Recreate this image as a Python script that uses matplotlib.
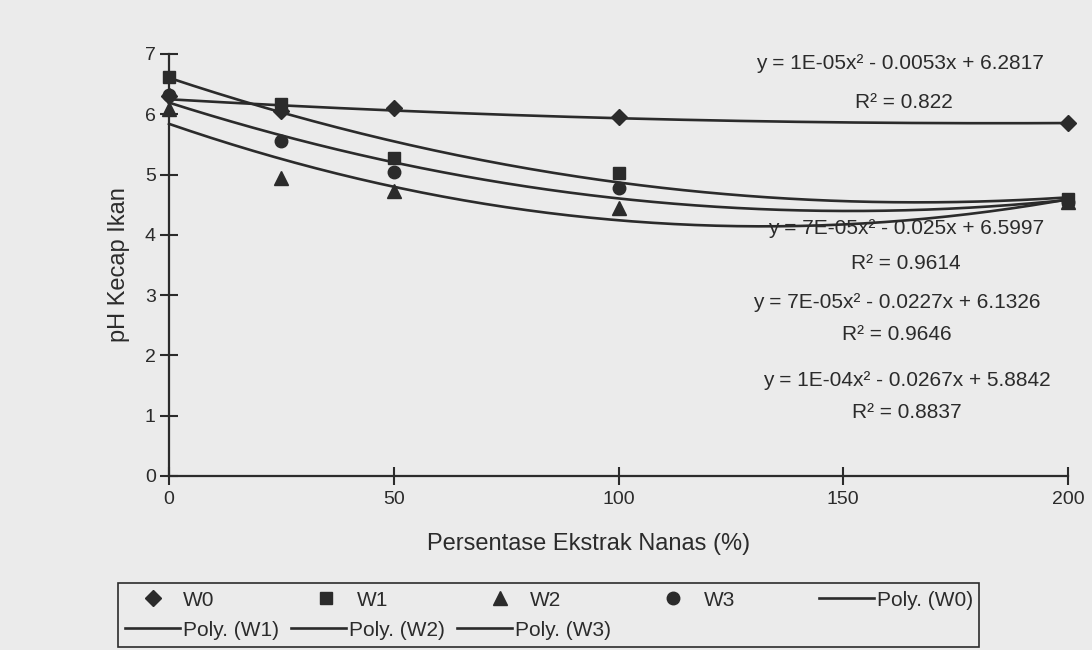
import numpy as np
import matplotlib
matplotlib.use("Agg")
import matplotlib.pyplot as plt
from matplotlib.lines import Line2D
from matplotlib.patches import Rectangle

# ---- data ----
ekstrak = [0, 25, 50, 100, 200]
W0 = [6.30, 6.05, 6.10, 5.95, 5.85]
W1 = [6.62, 6.17, 5.27, 5.02, 4.60]
W2 = [6.08, 4.94, 4.72, 4.44, 4.55]
W3 = [6.32, 5.55, 5.04, 4.77, 4.55]
series_names = ["W0", "W1", "W2", "W3"]
markers = ["D", "s", "^", "o"]
marker_sizes = [8, 9, 10, 9]
equations = [
    ("y = 1E-05x² - 0.0053x + 6.2817", "R² = 0.822"),
    ("y = 7E-05x² - 0.025x + 6.5997", "R² = 0.9614"),
    ("y = 7E-05x² - 0.0227x + 6.1326", "R² = 0.9646"),
    ("y = 1E-04x² - 0.0267x + 5.8842", "R² = 0.8837"),
]
x_ticks = [0, 50, 100, 150, 200]
y_ticks = [0, 1, 2, 3, 4, 5, 6, 7]

plt.rcParams['font.family'] = ['Liberation Sans', 'DejaVu Sans']
ink = '#2b2b2b'
bg = '#ebebeb'

W, H = 1092, 650
fig = plt.figure(figsize=(W / 100, H / 100), dpi=100, facecolor=bg)
ax = fig.add_axes([169 / W, 1 - 476 / H, (1068 - 169) / W, (476 - 54) / H])
ax.set_facecolor(bg)

xs = np.array(ekstrak, dtype=float)
xx = np.linspace(0, 200, 300)
scatter_handles = []
poly_handles = []
for name, vals, m, ms in zip(series_names, [W0, W1, W2, W3], markers, marker_sizes):
    h, = ax.plot(xs, vals, linestyle='none', marker=m, markersize=ms,
                 color=ink, clip_on=False, zorder=3, label=name)
    coef = np.polyfit(xs, vals, 2)
    p, = ax.plot(xx, np.polyval(coef, xx), color=ink, lw=1.9,
                 clip_on=False, zorder=2, label=f"Poly. ({name})")
    scatter_handles.append(h)
    poly_handles.append(p)

ax.set_xlim(0, 200)
ax.set_ylim(0, 7)
ax.set_xticks(x_ticks)
ax.set_yticks(y_ticks)
for s in ['top', 'right']:
    ax.spines[s].set_visible(False)
for s in ['left', 'bottom']:
    ax.spines[s].set_linewidth(1.6)
    ax.spines[s].set_color(ink)
ax.tick_params(axis='both', direction='inout', length=13, width=1.5,
               colors=ink, labelsize=14, labelcolor=ink)
ax.tick_params(axis='y', pad=3)
ax.tick_params(axis='x', pad=4)

ax.set_xlabel("Persentase Ekstrak Nanas (%)", fontsize=17, color=ink)
ax.set_ylabel("pH Kecap Ikan", fontsize=17, color=ink)
ax.xaxis.set_label_coords(0.467, -0.135)
ax.yaxis.set_label_coords(-0.043, 0.5)

# trendline equations
eq_pos = [((162.6, 6.85), (163.5, 6.20)),
          ((164.0, 4.11), (164.0, 3.53)),
          ((162.0, 2.87), (162.0, 2.34)),
          ((164.2, 1.59), (164.2, 1.06))]
for (eq, r2), (p1, p2) in zip(equations, eq_pos):
    ax.text(*p1, eq, ha='center', va='center', fontsize=15, color=ink, zorder=4)
    ax.text(*p2, r2, ha='center', va='center', fontsize=15, color=ink, zorder=4)

# legend (two rows inside one frame)
lkw = dict(frameon=False, borderpad=0, borderaxespad=0, handlelength=2.64,
           handletextpad=0.15, fontsize=15, labelcolor=ink,
           bbox_transform=fig.transFigure)
row1 = scatter_handles + [poly_handles[0]]
rh = 24 / H
leg1 = fig.legend(row1, [h.get_label() for h in row1], loc='center',
                  bbox_to_anchor=(125 / W, 1 - 600 / H - rh / 2, 848 / W, rh),
                  mode='expand', ncol=5, **lkw)
row2 = poly_handles[1:]
leg2 = fig.legend(row2, [h.get_label() for h in row2], loc='center left',
                  bbox_to_anchor=(125 / W, 1 - 630 / H), ncol=3,
                  columnspacing=0.58, **lkw)
fig.patches.append(Rectangle((118 / W, 1 - 647 / H), (979 - 118) / W,
                             (647 - 583) / H, transform=fig.transFigure,
                             fill=False, ec=ink, lw=1.2))

fig.savefig("out.png", dpi=100, facecolor=bg)
